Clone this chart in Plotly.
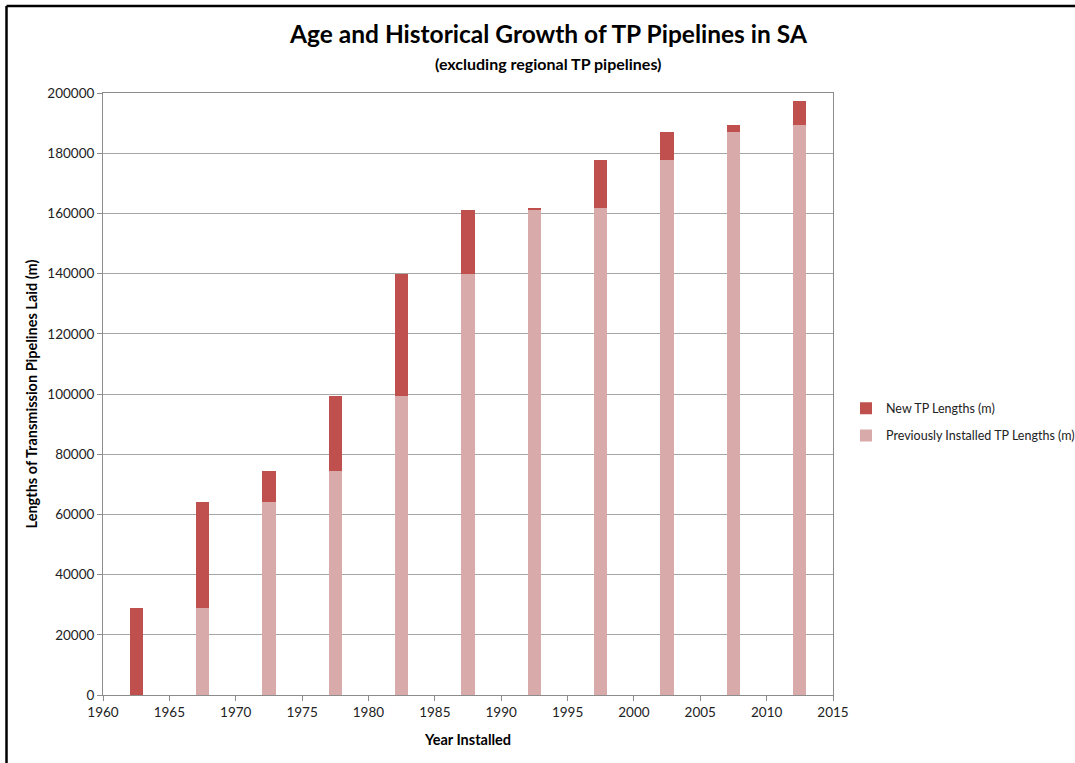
import plotly.graph_objects as go

years = [1962.5, 1967.5, 1972.5, 1977.5, 1982.5, 1987.5, 1992.5, 1997.5, 2002.5, 2007.5, 2012.5]
previous_lengths = [0, 29000, 64200, 74400, 99300, 140000, 161100, 161900, 177700, 187100, 189500]
new_lengths = [29000, 35200, 10200, 24900, 40700, 21100, 800, 15800, 9400, 2400, 7900]

FONT = "Lato, 'Open Sans', sans-serif"

fig = go.Figure()
fig.add_trace(go.Bar(
    x=years, y=previous_lengths, name="Previously Installed TP Lengths (m)",
    legendgroup="b_prev", legendrank=2,
    marker=dict(color="#D9AAAA", line=dict(width=0)), width=1.0,
))
fig.add_trace(go.Bar(
    x=years, y=new_lengths, name="New TP Lengths (m)",
    legendgroup="a_new", legendrank=1,
    marker=dict(color="#C0504D", line=dict(width=0)), width=1.0,
))

PL, PR, PT, PB = 103, 833, 93, 695
def px(x):
    return (x - PL) / (PR - PL)
def py(y):
    return (PB - y) / (PB - PT)

fig.update_layout(
    barmode="stack",
    width=1075, height=763,
    margin=dict(l=PL, r=1075 - PR, t=PT, b=763 - PB, autoexpand=False),
    paper_bgcolor="white", plot_bgcolor="white",
    font=dict(family=FONT, size=12, color="#222222"),
    showlegend=True,
    legend=dict(
        x=px(846), y=py(422), xanchor="left", yanchor="middle",
        traceorder="grouped", font=dict(size=12.5, color="#222222"),
        itemwidth=30, tracegroupgap=8, bgcolor="rgba(0,0,0,0)",
    ),
    annotations=[
        dict(text="<b>Age and Historical Growth of TP Pipelines in SA</b>",
             x=px(548), y=py(33), xref="paper", yref="paper",
             showarrow=False, font=dict(size=24.5, color="black"), xanchor="center", yanchor="middle"),
        dict(text="<b>(excluding regional TP pipelines)</b>",
             x=px(548), y=py(63), xref="paper", yref="paper",
             showarrow=False, font=dict(size=16, color="black"), xanchor="center", yanchor="middle"),
    ],
    shapes=[
        dict(type="line", xref="paper", yref="paper",
             x0=px(6.5), x1=px(1080), y0=py(6), y1=py(6),
             line=dict(color="black", width=2.5)),
        dict(type="line", xref="paper", yref="paper",
             x0=px(6.5), x1=px(6.5), y0=py(6), y1=py(770),
             line=dict(color="black", width=2.5)),
    ],
)

fig.update_xaxes(
    range=[1960, 2015], dtick=5, tick0=1960,
    showgrid=False, showline=True, linecolor="#8C8C8C", linewidth=1, mirror=True,
    ticks="outside", ticklen=5, tickcolor="#8C8C8C",
    tickfont=dict(size=13.5, color="#222222"),
    title=dict(text="<b>Year Installed</b>", font=dict(size=14.5, color="black"), standoff=15),
    zeroline=False,
)
fig.update_yaxes(
    range=[0, 200000], dtick=20000, tickformat="d",
    showgrid=True, gridcolor="#A6A6A6", gridwidth=1,
    showline=True, linecolor="#8C8C8C", linewidth=1, mirror=True,
    ticks="outside", ticklen=5, tickcolor="#8C8C8C",
    tickfont=dict(size=13.5, color="#222222"),
    title=dict(text="<b>Lengths of Transmission Pipelines Laid (m)</b>", font=dict(size=14.5, color="black"), standoff=6),
    zeroline=False,
)

fig.write_html("out.html")
